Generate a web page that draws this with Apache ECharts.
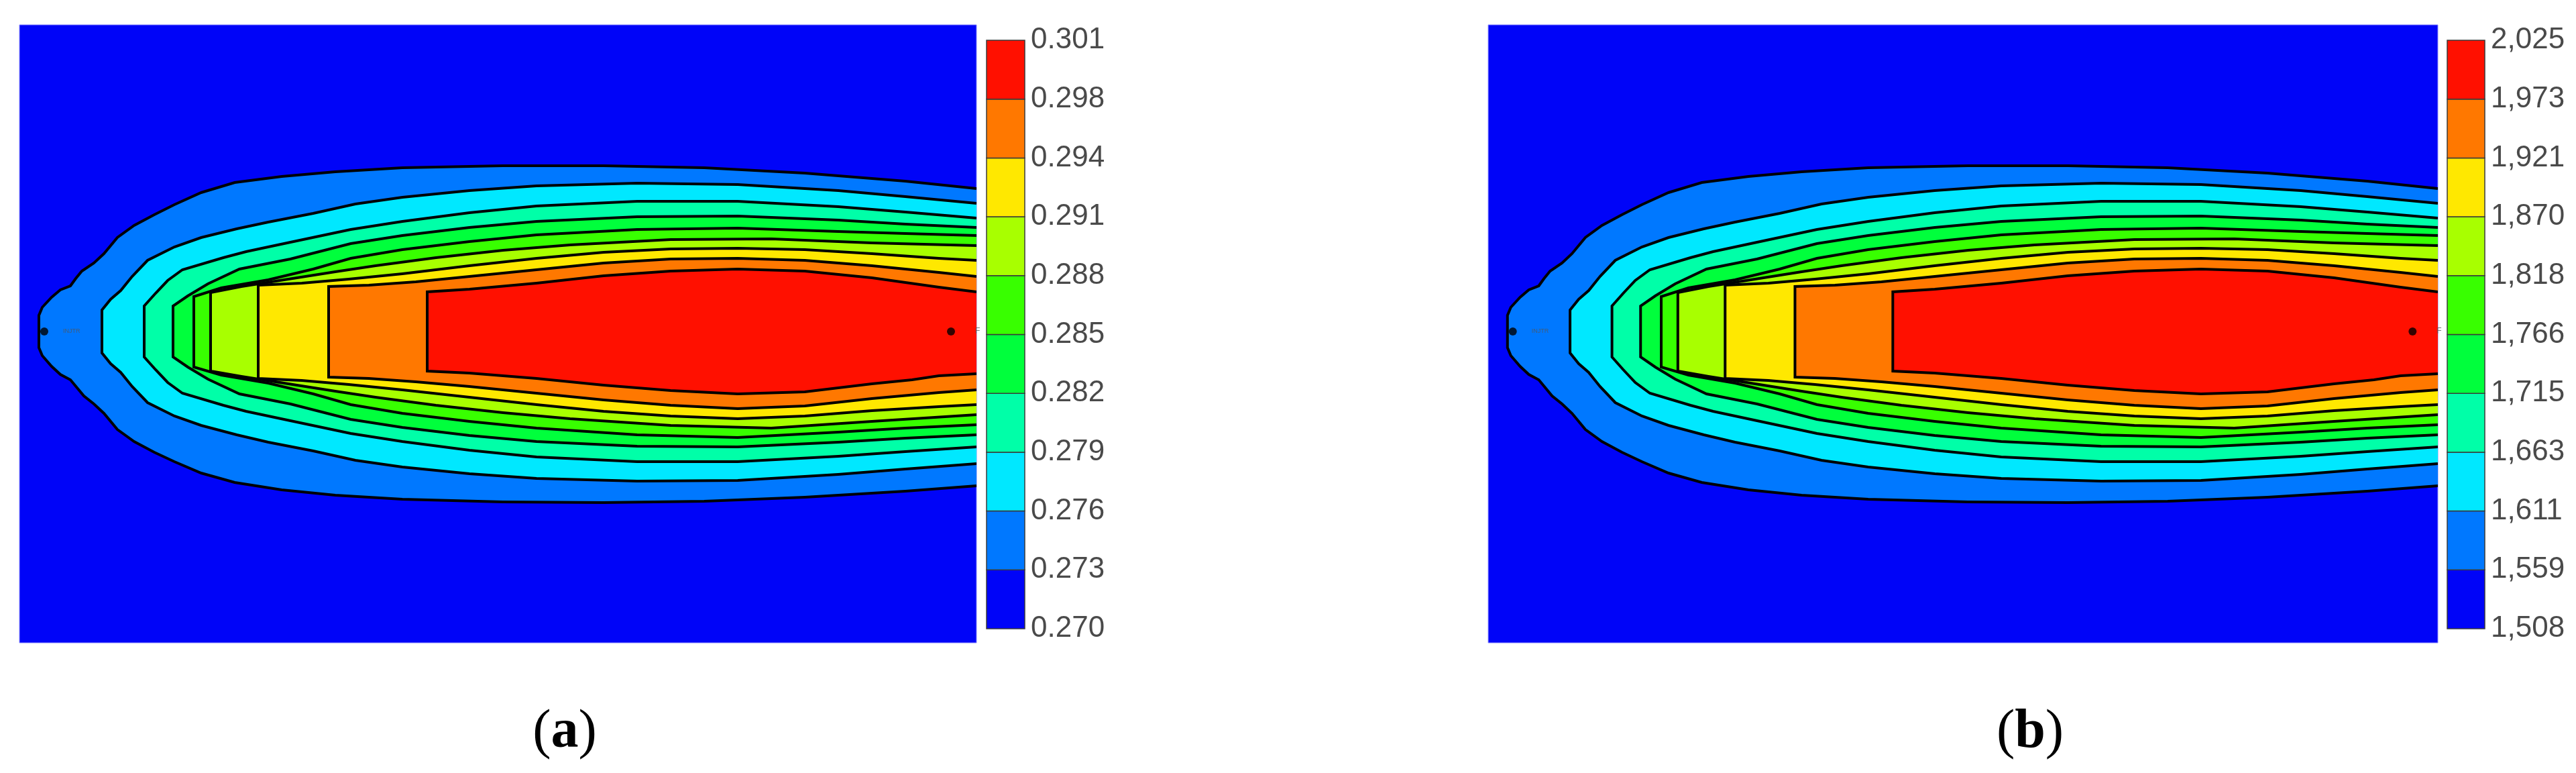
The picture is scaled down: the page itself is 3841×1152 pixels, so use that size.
<!DOCTYPE html>
<html><head><meta charset="utf-8">
<script src="https://cdn.jsdelivr.net/npm/echarts@6/dist/echarts.min.js"></script>
<style>html,body{margin:0;padding:0;background:#fff}#c{width:3841px;height:1152px}</style>
</head><body><div id="c"></div>
<script>
// band colours, lowest band first
const bandColors = ['#0004F8','#0078FF','#00E8FF','#00FFA8','#00FF3C','#38FF00','#A8FF00','#FFE800','#FF7800','#FF1000'];
const ticksA = ['0.270','0.273','0.276','0.279','0.282','0.285','0.288','0.291','0.294','0.298','0.301'];
const ticksB = ['1,508','1,559','1,611','1,663','1,715','1,766','1,818','1,870','1,921','1,973','2,025'];

// contour boundaries (domain units: x along reservoir 0..1427, y across 0..921 from top)
const L1_top = [[29,433],[34,421],[48,406],[61,395],[76,389],[84,378],[93,367],[111,355],[126,341],[146,317],[171,299],[201,283],[231,268],[271,250],[321,235],[391,226],[471,219],[571,213],[721,210],[871,210],[1021,213],[1171,221],[1321,233],[1427,244]];
const L1_bot = [[29,481],[34,493],[48,509],[61,521],[76,529],[86,541],[96,553],[111,565],[126,579],[146,603],[171,621],[201,637],[231,651],[271,668],[321,682],[391,693],[471,701],[571,707],[721,711],[871,712],[1021,710],[1171,704],[1321,695],[1427,687]];
const L2_top = [[123,425],[136,409],[151,396],[168,375],[191,351],[231,331],[271,317],[324,304],[371,294],[438,281],[501,267],[571,257],[671,247],[771,240],[921,236],[1071,238],[1221,247],[1321,256],[1427,266]];
const L2_bot = [[123,489],[136,505],[151,518],[168,539],[191,563],[231,583],[271,597],[324,611],[371,622],[438,635],[501,649],[571,659],[671,669],[771,676],[921,680],[1071,679],[1221,670],[1321,662],[1427,654]];
const L3_top = [[186,419],[203,400],[221,381],[243,365],[304,347],[338,338],[404,324],[494,305],[571,293],[671,280],[771,270],[921,263],[1071,263],[1221,271],[1321,279],[1427,288]];
const L3_bot = [[186,495],[203,514],[221,533],[243,549],[304,567],[338,576],[404,590],[494,609],[571,621],[671,634],[771,644],[921,651],[1071,651],[1221,643],[1321,636],[1427,629]];
const L4_top = [[229,419],[251,404],[281,386],[328,364],[404,349],[494,326],[571,314],[671,302],[771,293],[921,286],[1071,285],[1221,291],[1321,297],[1427,302]];
const L4_bot = [[229,495],[251,510],[281,528],[328,550],[404,565],[494,588],[571,600],[671,612],[771,621],[921,628],[1071,629],[1221,622],[1321,616],[1427,611]];
const L5_top = [[260,405],[301,392],[371,380],[438,364],[494,348],[571,335],[671,323],[771,313],[921,305],[1071,303],[1221,308],[1321,311],[1427,314]];
const L5_bot = [[260,510],[301,522],[371,534],[438,550],[494,566],[571,579],[671,591],[771,601],[921,611],[1071,615],[1221,607],[1321,601],[1427,596]];
const L6_top = [[285,399],[331,390],[401,379],[471,368],[531,359],[621,347],[721,336],[821,328],[971,320],[1121,319],[1271,325],[1427,329]];
const L6_bot = [[285,516],[331,524],[401,535],[471,546],[531,555],[621,567],[721,578],[821,587],[971,597],[1121,601],[1271,591],[1427,581]];
const L7_top = [[356,388],[421,385],[491,379],[571,371],[671,359],[771,348],[871,339],[971,334],[1071,333],[1171,335],[1271,341],[1371,348],[1427,351]];
const L7_bot = [[356,527],[421,530],[491,536],[571,544],[671,555],[771,566],[871,576],[971,583],[1071,587],[1171,583],[1271,575],[1371,569],[1427,566]];
const L8_top = [[461,390],[521,388],[591,383],[671,375],[771,365],[871,355],[971,349],[1071,348],[1171,351],[1271,359],[1371,369],[1427,375]];
const L8_bot = [[461,525],[521,527],[591,532],[671,539],[771,549],[871,559],[971,567],[1071,572],[1171,568],[1271,557],[1371,548],[1427,544]];
const L9_top = [[608,398],[671,394],[771,385],[871,374],[971,367],[1071,364],[1171,367],[1271,377],[1371,391],[1427,398]];
const L9_bot = [[608,516],[671,519],[771,527],[871,537],[971,545],[1071,550],[1171,547],[1271,535],[1331,529],[1371,523],[1427,520]];

const wellNames = ['INJTR','F'];
const wellPos = [[37,457],[1389,457]];

const contours = [[L1_top,L1_bot],[L2_top,L2_bot],[L3_top,L3_bot],[L4_top,L4_bot],[L5_top,L5_bot],[L6_top,L6_bot],[L7_top,L7_bot],[L8_top,L8_bot],[L9_top,L9_bot]];
const DOMX = 1427, DOMY = 921;

function contourItem(params, api) {
  const k = api.value(0);
  const T = contours[k][0].map(p => api.coord(p));
  const B = contours[k][1].map(p => api.coord(p));
  const poly = T.concat(B.slice().reverse());
  const line = T.slice().reverse().concat(B);
  return {type:'group', children:[
    {type:'polygon', shape:{points:poly}, style:{fill:bandColors[k+1]}},
    {type:'polyline', shape:{points:line}, style:{stroke:'#000', lineWidth:4, lineJoin:'miter', fill:null}}
  ]};
}
function barItem(params, api) {
  const i = api.value(0);
  const p0 = api.coord([0, i+1]);
  const p1 = api.coord([1, i]);
  return {type:'rect', shape:{x:p0[0], y:p0[1], width:p1[0]-p0[0], height:p1[1]-p0[1]},
    style:{fill:bandColors[i], stroke:'#3a3a3a', lineWidth:1.5}};
}

const chart = echarts.init(document.getElementById('c'), null, {renderer:'canvas'});
const idx = [0,1,2,3,4,5,6,7,8];
const bands = [0,1,2,3,4,5,6,7,8,9];
const labelFont = "'Liberation Sans Narrow', 'Liberation Sans', Arial, sans-serif";

function plotAxes(gi) {
  return {
    x: {gridIndex:gi, type:'value', min:0, max:DOMX, show:false},
    y: {gridIndex:gi, type:'value', min:0, max:DOMY, inverse:true, show:false}
  };
}
function barAxes(gi, ticks) {
  return {
    x: {gridIndex:gi, type:'value', min:0, max:1, show:false},
    y: {gridIndex:gi, type:'value', min:0, max:10, interval:1, position:'right',
        axisLine:{show:false}, axisTick:{show:false}, splitLine:{show:false},
        axisLabel:{show:true, margin:9, fontSize:44, color:'#4a4a4a', fontFamily:labelFont,
          formatter: v => ticks[Math.round(v)]}}
  };
}
const a0 = plotAxes(0), a1 = barAxes(1, ticksA), a2 = plotAxes(2), a3 = barAxes(3, ticksB);

function wellSeries(xi) {
  return {type:'scatter', xAxisIndex:xi, yAxisIndex:xi, symbolSize:12, z:5,
    itemStyle:{color:'#000'},
    data: wellPos.map((p,i) => ({name:wellNames[i], value:p,
      label:{show:true, position:'right', distance: i===0 ? 22 : 30, formatter:'{b}',
        fontSize: i===0 ? 9 : 12, color:'#555', fontFamily:'Liberation Sans'}}))};
}

chart.setOption({
  animation:false,
  backgroundColor:'#ffffff',
  grid:[
    {left:29, top:37, width:1427, height:921, show:true, backgroundColor:'#0004F8', borderColor:'#8c8cff', borderWidth:1},
    {left:1471, top:60, width:57, height:877},
    {left:2219, top:37, width:1416, height:921, show:true, backgroundColor:'#0004F8', borderColor:'#8c8cff', borderWidth:1},
    {left:3649, top:60, width:56, height:877}
  ],
  xAxis:[a0.x, a1.x, a2.x, a3.x],
  yAxis:[a0.y, a1.y, a2.y, a3.y],
  series:[
    {type:'custom', xAxisIndex:0, yAxisIndex:0, clip:true, renderItem:contourItem, data:idx},
    {type:'custom', xAxisIndex:1, yAxisIndex:1, renderItem:barItem, data:bands},
    {type:'custom', xAxisIndex:2, yAxisIndex:2, clip:true, renderItem:contourItem, data:idx},
    {type:'custom', xAxisIndex:3, yAxisIndex:3, renderItem:barItem, data:bands},
    wellSeries(0), wellSeries(2)
  ],
  graphic:[
    {type:'text', x:842, y:1092, style:{text:'{p|(}{b|a}{p|)}', align:'center', verticalAlign:'middle',
      rich:{p:{fontFamily:'Liberation Serif', fontSize:82, fill:'#000'}, b:{fontFamily:'Liberation Serif', fontSize:82, fontWeight:'bold', fill:'#000'}}}},
    {type:'text', x:3027, y:1092, style:{text:'{p|(}{b|b}{p|)}', align:'center', verticalAlign:'middle',
      rich:{p:{fontFamily:'Liberation Serif', fontSize:82, fill:'#000'}, b:{fontFamily:'Liberation Serif', fontSize:82, fontWeight:'bold', fill:'#000'}}}}
  ]
});
</script></body></html>
